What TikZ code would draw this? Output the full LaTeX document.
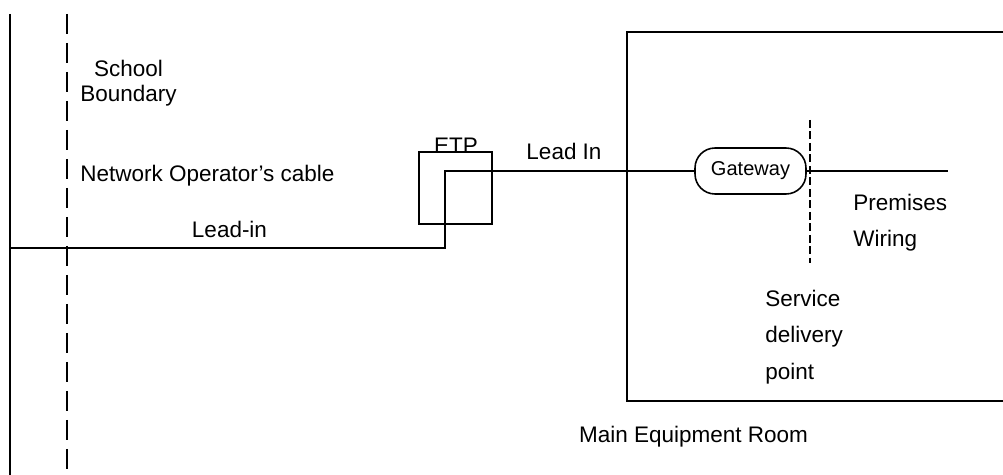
\documentclass[tikz,border=0pt]{standalone}
\usepackage{fontspec}
\setmainfont{Liberation Sans}
\begin{document}
\begin{tikzpicture}[x=0.02cm,y=-0.02cm,
  lbl/.style={font=\fontsize{12.8}{15}\selectfont, inner sep=0pt},
  wall/.style={line width=1.1pt},
  cable/.style={line width=0.8pt},
  boundary/.style={line width=0.9pt, dash pattern=on 0.4cm off 0.18cm},
  sdp/.style={line width=1.2pt, dash pattern=on 0.16cm off 0.07cm},
  etpbox/.style={draw, line width=0.8pt, minimum width=1.46cm, minimum height=1.44cm, inner sep=0pt},
  gwbox/.style={draw, line width=0.9pt, rounded corners=0.4cm, minimum width=2.22cm, minimum height=0.92cm, inner sep=0pt, font=\fontsize{11.4}{13}\selectfont}]
\useasboundingbox (0,0) rectangle (1003,475);
% school wall and boundary
\coordinate (wallTop) at (10,14);
\coordinate (wallBot) at (10,475);
\draw[wall] (wallTop) -- (wallBot);
\coordinate (bTop) at (67,14);
\coordinate (bBot) at (67,475);
\draw[boundary] (bTop) -- (bBot);
% main equipment room
\coordinate (r1) at (1003,32);
\coordinate (r2) at (627,32);
\coordinate (r3) at (627,401);
\coordinate (r4) at (1003,401);
\draw[wall] (r1) -- (r2) -- (r3) -- (r4);
% ETP and gateway
\node[etpbox] (etp) at (455.5,188) {};
\node[lbl, anchor=base] (etplbl) at (456,154) {ETP};
\node[gwbox] (gw) at (750.5,171) {Gateway};
% cable
\coordinate (cin) at (10,248);
\coordinate (bend1) at (445,248);
\coordinate (bend2) at (445,171);
\draw[cable] (cin) -- (bend1) -- (bend2) -- (gw.west);
\coordinate (pwEnd) at (948,171);
\draw[cable] (gw.east) -- (pwEnd);
% service delivery point
\coordinate (sdpTop) at (810,120);
\coordinate (sdpBot) at (810,263);
\draw[sdp] (sdpTop) -- (sdpBot);
% labels
\node[lbl, anchor=base] (school) at (128.5,77) {School};
\node[lbl, anchor=base] (boundary) at (128.5,102) {Boundary};
\node[lbl, anchor=base west] (netop) at (80,182) {Network Operator's cable};
\node[lbl, anchor=base] (leadin) at (229.5,238) {Lead-in};
\node[lbl, anchor=base] (leadIn) at (564,160) {Lead In};
\node[lbl, anchor=base west] (premises) at (853,211) {Premises};
\node[lbl, anchor=base west] (wiring) at (853,247) {Wiring};
\node[lbl, anchor=base west] (service) at (765,307) {Service};
\node[lbl, anchor=base west] (delivery) at (765,343) {delivery};
\node[lbl, anchor=base west] (point) at (765,380) {point};
\node[lbl, anchor=base] (mer) at (693.5,443) {Main Equipment Room};
\end{tikzpicture}
\end{document}
